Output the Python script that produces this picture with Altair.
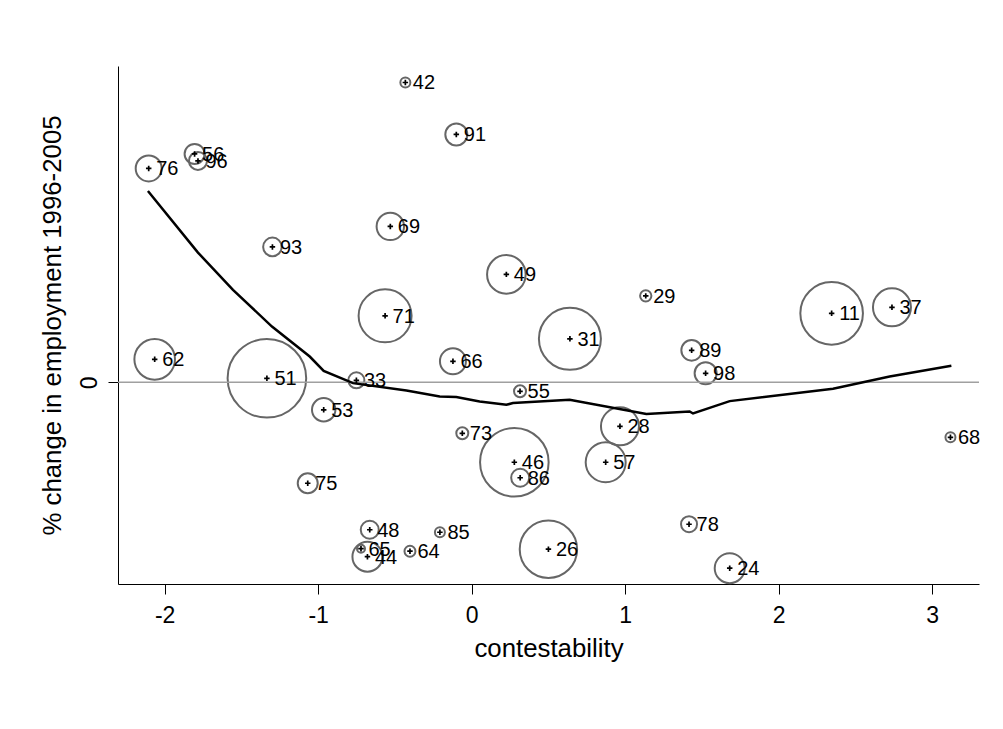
import altair as alt
import pandas as pd

# industry ids (labels)
ids = [42, 91, 56, 96, 76, 69, 93, 71, 49, 29, 11, 37, 31, 89, 98, 55, 28, 68,
       46, 86, 57, 62, 51, 33, 53, 66, 73, 75, 48, 85, 65, 44, 64, 26, 78, 24]
# contestability
xs = [-0.432, -0.100, -1.805, -1.783, -2.104, -0.530, -1.298, -0.564, 0.226, 1.134,
      2.345, 2.738, 0.640, 1.433, 1.524, 0.315, 0.966, 3.119, 0.278, 0.316, 0.873,
      -2.065, -1.334, -0.751, -0.964, -0.122, -0.061, -1.068, -0.664, -0.207, -0.721,
      -0.679, -0.402, 0.500, 1.416, 1.681]
# % change in employment 1996-2005
ys = [60.0, 49.6, 45.7, 44.3, 42.8, 31.2, 27.1, 13.3, 21.6, 17.3, 13.8, 15.0, 8.7,
      6.4, 1.8, -1.8, -8.8, -11.0, -16.0, -19.1, -16.0, 4.6, 0.8, 0.4, -5.5, 4.2,
      -10.2, -20.2, -29.5, -30.0, -33.3, -34.9, -33.8, -33.4, -28.4, -37.2]
# weights (marker area)
ws = [25, 121, 100, 81, 169, 188, 86, 702, 372, 32, 980, 361, 961, 106, 121, 36,
      361, 25, 1176, 81, 400, 412, 1544, 64, 137, 169, 36, 100, 81, 25, 16, 225,
      30, 824, 64, 225]

# lowess smooth
lx = [-2.109, -1.783, -1.555, -1.301, -1.055, -0.964, -0.773, -0.425, -0.208, -0.100,
      0.052, 0.226, 0.269, 0.638, 1.138, 1.420, 1.442, 1.681, 2.354, 2.723, 3.125]
ly = [38.3, 25.96, 18.5, 11.16, 5.16, 2.3, -0.16, -1.64, -2.84, -2.96, -3.84, -4.5,
      -4.16, -3.5, -6.36, -5.84, -6.24, -3.76, -1.3, 1.16, 3.3]

df = pd.DataFrame({"id": [str(i) for i in ids], "x": xs, "y": ys, "w": ws})
lw = pd.DataFrame({"x": lx, "y": ly})
zero = pd.DataFrame({"y": [0]})

X = alt.X("x:Q",
          scale=alt.Scale(domain=[-2.304, 3.305], nice=False, zero=False),
          axis=alt.Axis(values=[-2, -1, 0, 1, 2, 3], title="contestability",
                        labelExpr="'' + datum.value", labelPadding=10.5,
                        titleY=72, titleBaseline="alphabetic"))
Y = alt.Y("y:Q",
          scale=alt.Scale(domain=[-40.36, 63.3], nice=False, zero=False),
          axis=alt.Axis(values=[0], title="% change in employment 1996-2005",
                        labelAngle=270, labelAlign="center", labelBaseline="alphabetic",
                        labelPadding=11.8, titleX=-58, titleAngle=270,
                        titleBaseline="alphabetic"))

circles = alt.Chart(df).mark_point(shape="circle", filled=False, stroke="#666666",
                                   strokeWidth=2, opacity=1).encode(
    x=X, y=Y,
    size=alt.Size("w:Q", scale=alt.Scale(type="linear", domain=[0, 1600], range=[0, 6400]),
                  legend=None))

rule = alt.Chart(zero).mark_rule(color="#a0a0a0", strokeWidth=1.5).encode(y=Y)

line = alt.Chart(lw).mark_line(color="black", strokeWidth=2.5).encode(x=X, y=Y, order="x:Q")

plus = alt.Chart(df).mark_point(shape="M-1,0L1,0M0,-1L0,1", size=30, filled=False,
                                stroke="black", strokeWidth=1.7, opacity=1).encode(x=X, y=Y)

labels = alt.Chart(df).mark_text(align="left", baseline="middle", dx=7.5, dy=1,
                                 font="Liberation Sans", fontSize=20, color="black").encode(
    x=X, y=Y, text="id:N")

chart = alt.layer(circles, rule, line, plus, labels).properties(
    width=861, height=518,
    autosize=alt.AutoSizeParams(type="none"),
    padding={"left": 110, "top": 58, "right": 8, "bottom": 100},
    background="white",
).configure_view(stroke=None).configure_axis(
    domainColor="black", tickColor="black", grid=False,
    labelFont="Liberation Sans", titleFont="Liberation Sans",
    labelColor="black", titleColor="black", titleFontWeight="normal",
    labelFontSize=23, titleFontSize=25.8, tickSize=10, domainWidth=1, tickWidth=1,
)

chart.save("out.html", embed_options={"renderer": "svg", "actions": False})
